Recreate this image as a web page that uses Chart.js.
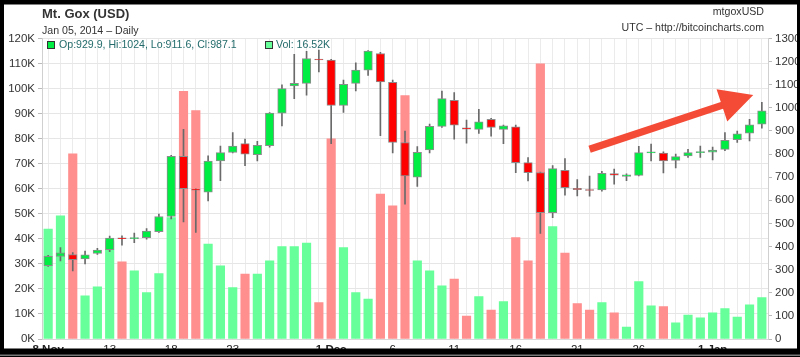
<!DOCTYPE html>
<html><head><meta charset="utf-8">
<script src="https://cdn.jsdelivr.net/npm/chart.js@4.4.1/dist/chart.umd.min.js"></script>
<style>html,body{margin:0;padding:0;background:#fff;overflow:hidden}#wrap{width:800px;height:357px;position:relative}</style>
</head><body><div id="wrap"><canvas id="c" width="800" height="357"></canvas></div>
<script>
const days = ['Nov 8','Nov 9','Nov 10','Nov 11','Nov 12','Nov 13','Nov 14','Nov 15','Nov 16','Nov 17','Nov 18','Nov 19','Nov 20','Nov 21','Nov 22','Nov 23','Nov 24','Nov 25','Nov 26','Nov 27','Nov 28','Nov 29','Nov 30',
 'Dec 1','Dec 2','Dec 3','Dec 4','Dec 5','Dec 6','Dec 7','Dec 8','Dec 9','Dec 10','Dec 11','Dec 12','Dec 13','Dec 14','Dec 15','Dec 16','Dec 17','Dec 18','Dec 19','Dec 20','Dec 21','Dec 22','Dec 23','Dec 24','Dec 25','Dec 26','Dec 27','Dec 28','Dec 29','Dec 30','Dec 31',
 'Jan 1','Jan 2','Jan 3','Jan 4','Jan 5'];
const tickDays  = ['Nov 8','Nov 13','Nov 18','Nov 23','Dec 1','Dec 6','Dec 11','Dec 16','Dec 21','Dec 26','Jan 1'];
const tickTexts = ['8 Nov','13','18','23','1 Dec','6','11','16','21','26','1 Jan'];
const boldTicks = ['Nov 8','Dec 1','Jan 1'];

const open  = [317,357,365,346,370,386,437,435,438,464,530,790,648,635,770,807,845,797,836,977,1095,1106,1211,1207,1011,1106,1163,1235,1110,850,700,818,920,1032,914,907,950,907,918,763,720,547,730,652,646,645,716,703,708,806,804,773,792,807,808,820,862,890,929.9];
const high  = [362,395,374,380,392,445,446,458,478,540,795,907,650,792,835,893,865,855,980,1100,1232,1245,1250,1210,1120,1195,1248,1240,1120,900,832,930,1073,1066,947,994,955,925,925,785,722,750,780,690,705,725,735,715,833,843,810,800,820,835,830,893,900,950,1024];
const low   = [314,338,295,325,366,378,406,417,432,461,520,506,461,597,685,805,750,770,830,922,1040,1055,1155,845,980,1073,1140,880,805,583,660,805,915,864,847,889,878,845,720,684,457,525,622,619,618,640,670,685,705,770,718,740,785,785,775,815,850,857,911.6];
const close = [358,373,343,364,385,437,434,438,467,530,790,650,644,770,806,835,800,838,977,1083,1106,1213,1207,1010,1102,1163,1246,1112,850,705,808,920,1040,925,908,940,915,922,763,720,547,737,655,646,643,717,709,710,806,809,770,789,806,810,817,860,888,926,987.1];
const volumeK = [43.9,49.2,73.9,17.2,20.8,39.2,30.8,27.2,18.5,26.1,
 48.5,98.9,91.2,37.9,29.2,20.5,25.9,25.9,31.2,36.9,
 36.9,38.3,14.5,79.9,36.5,18.5,15.9,57.9,53.2,97.2,
 31.2,27.2,21.2,23.9,9.2,16.9,11.5,14.9,40.5,31.2,
 109.9,44.9,34.3,14.1,11.5,14.5,10.5,4.8,22.9,13.2,
 12.9,6.5,9.6,8.5,10.5,12.1,8.8,13.6,16.52];

// arrow annotation in data units: [day index, price]
const arrowFrom = [44, 821];
const arrowTo = [57.3, 1056];

const FONT = '"Liberation Sans", Arial, sans-serif';
const UP = '#00ee44', DOWN = '#ff0000';
const VUP = '#66ff99', VDOWN = '#ff8e8e';

const bodies = open.map((o,i)=>{
  let a = Math.min(o, close[i]), b = Math.max(o, close[i]);
  if (b - a < 4) { const m=(a+b)/2; a=m-2; b=m+2; }
  return [a,b];
});
const wicks = low.map((l,i)=>[l, high[i]]);
const bodyColors = open.map((o,i)=> close[i] >= o ? UP : DOWN);
const volColors = close.map((c,i)=> (i===0 || c >= close[i-1]) ? VUP : VDOWN);

const deco = {
  id:'deco',
  beforeDraw(chart){
    const ctx = chart.ctx;
    ctx.save(); ctx.fillStyle='#fff'; ctx.fillRect(0,0,chart.width,chart.height); ctx.restore();
  },
  afterDraw(chart){
    const {ctx, scales} = chart;
    const xs = scales.x, yp = scales.yP;
    ctx.save();
    // arrow
    const x0 = xs.getPixelForValue(arrowFrom[0]), y0 = yp.getPixelForValue(arrowFrom[1]);
    const x1 = xs.getPixelForValue(arrowTo[0]), y1 = yp.getPixelForValue(arrowTo[1]);
    const dx=x1-x0, dy=y1-y0, len=Math.hypot(dx,dy), ux=dx/len, uy=dy/len, nx=-uy, ny=ux;
    const headLen=33, hh=17, sh=3.6;
    const bx=x1-ux*headLen, by=y1-uy*headLen;
    ctx.beginPath();
    ctx.moveTo(x0+nx*sh, y0+ny*sh);
    ctx.lineTo(bx+nx*sh, by+ny*sh);
    ctx.lineTo(bx+nx*hh, by+ny*hh);
    ctx.lineTo(x1, y1);
    ctx.lineTo(bx-nx*hh, by-ny*hh);
    ctx.lineTo(bx-nx*sh, by-ny*sh);
    ctx.lineTo(x0-nx*sh, y0-ny*sh);
    ctx.closePath();
    ctx.fillStyle='#f44b37';
    ctx.fill();

    // header texts
    ctx.textBaseline='middle';
    ctx.fillStyle='#333';
    ctx.textAlign='left';
    ctx.font='bold 13px '+FONT;
    ctx.fillText('Mt. Gox (USD)', 42, 14);
    ctx.font='10.6px '+FONT;
    ctx.fillText('Jan 05, 2014 \u2013 Daily', 42, 31);
    ctx.textAlign='right';
    ctx.fillText('mtgoxUSD', 764, 12.5);
    ctx.fillText('UTC \u2013 http://bitcoincharts.com', 764, 28.5);

    // legend
    const last = open.length-1;
    ctx.textAlign='left';
    ctx.fillStyle=UP; ctx.fillRect(47,41.5,7,7);
    ctx.strokeStyle='#333'; ctx.lineWidth=1; ctx.strokeRect(47.5,41.5,7,7);
    ctx.fillStyle='#236b6b';
    ctx.fillText('Op:'+open[last]+', Hi:'+high[last]+', Lo:'+low[last]+', Cl:'+close[last], 59, 45.5);
    ctx.fillStyle=VUP; ctx.fillRect(265,41.5,7,7);
    ctx.strokeRect(265.5,41.5,7,7);
    ctx.fillStyle='#236b6b';
    ctx.fillText('Vol: '+volumeK[last]+'K', 276, 45.5);

    // black frame
    ctx.fillStyle='#000';
    ctx.fillRect(0,0,800,4.5);
    ctx.fillRect(0,0,4,357);
    ctx.fillRect(797,0,3,357);
    ctx.fillRect(0,348.5,800,9);
    ctx.fillStyle='#777';
    ctx.fillRect(0,354.5,800,1.5);
    ctx.restore();
  }
};

new Chart(document.getElementById('c'), {
  data: {
    labels: days,
    datasets: [
      { type:'bar', label:'body', data: bodies, yAxisID:'yP', grouped:false, order:1,
        backgroundColor: bodyColors, borderColor:'#8c8c8c', borderWidth:1, borderSkipped:false, barThickness:8.5 },
      { type:'bar', label:'wick', data: wicks, yAxisID:'yP', grouped:false, order:2,
        backgroundColor:'#6a6a6a', borderWidth:0, barThickness:1 },
      { type:'bar', label:'vol', data: volumeK, yAxisID:'yV', grouped:false, order:3,
        backgroundColor: volColors, borderWidth:0, barThickness:8.5 }
    ]
  },
  options: {
    responsive:false, animation:false, devicePixelRatio:1,
    layout:{ padding:{ top:38.5, left:0, right:0, bottom:0 } },
    plugins:{ legend:{display:false}, tooltip:{enabled:false} },
    scales:{
      x:{ type:'category', offset:true,
        grid:{ color:'#ebebeb', offset:false, drawTicks:false },
        border:{ color:'#d8d8d8' },
        ticks:{ autoSkip:false, maxRotation:0, padding:4, color:'#222',
          font:(c)=>({family:FONT, size:11.5, weight: boldTicks.includes(days[c.index]) ? 'bold' : 'normal'}),
          callback:(v,i)=>{ const k=tickDays.indexOf(days[i]); return k>=0 ? tickTexts[k] : ''; } },
        afterFit:(s)=>{ s.height = 18; } },
      yV:{ position:'left', min:0, max:120,
        grid:{ color:'#e6e6e6', tickLength:4, tickColor:'#bbb' },
        border:{ color:'#d0d0d0' },
        ticks:{ stepSize:10, padding:3, color:'#333', font:{family:FONT, size:11.5},
          callback:(v)=> v+'K' },
        afterFit:(s)=>{ s.width = 42; } },
      yP:{ position:'right', min:0, max:1300,
        grid:{ drawOnChartArea:false, tickLength:4, tickColor:'#bbb' },
        border:{ color:'#d0d0d0' },
        ticks:{ stepSize:100, padding:3, color:'#333', font:{family:FONT, size:11.5},
          callback:(v)=> String(v) },
        afterFit:(s)=>{ s.width = 32; } }
    }
  },
  plugins:[deco]
});
</script></body></html>
